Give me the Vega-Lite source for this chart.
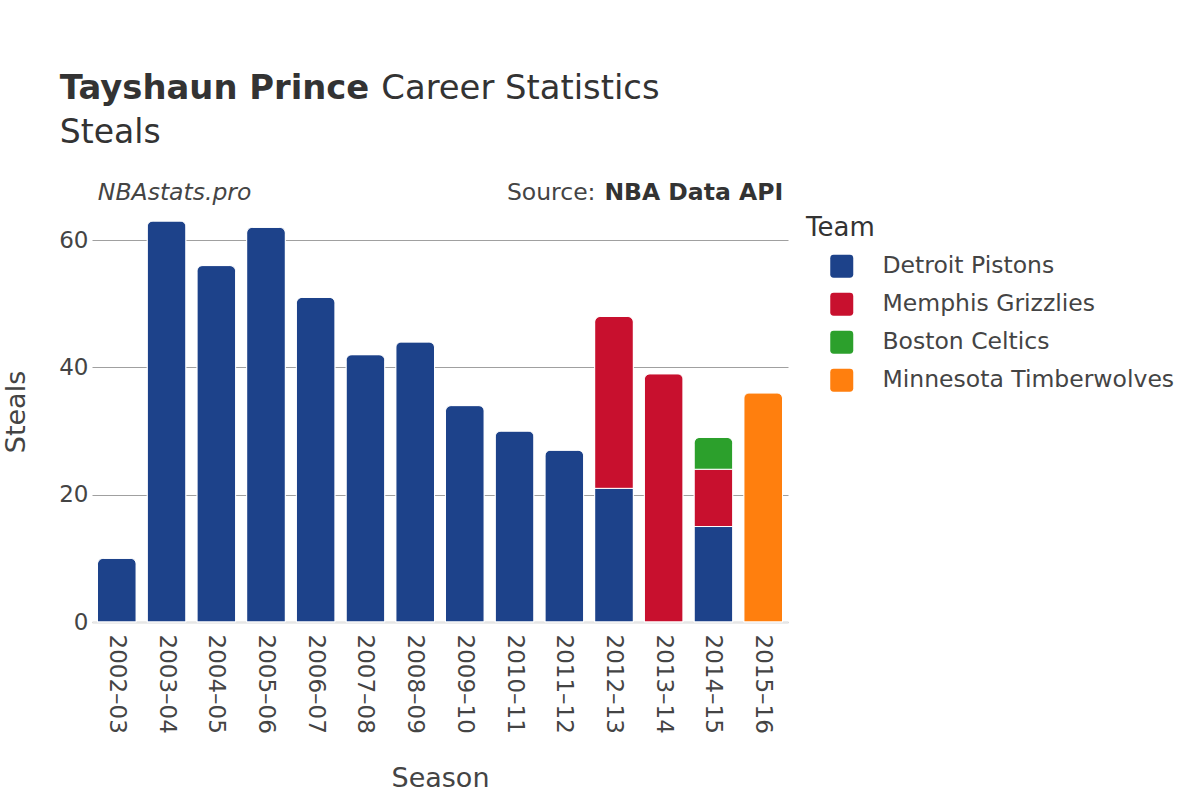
{
  "$schema": "https://vega.github.io/schema/vega-lite/v6.json",
  "width": 696,
  "height": 401,
  "autosize": {"type": "none"},
  "padding": {"left": 92, "top": 221, "right": 412, "bottom": 178},
  "background": "white",
  "config": {"font": "DejaVu Sans", "view": {"stroke": null}},
  "layer": [
    {
      "data": {
        "values": [
          {"season": "2002–03", "team": "Detroit Pistons", "steals": 10},
          {"season": "2003–04", "team": "Detroit Pistons", "steals": 63},
          {"season": "2004–05", "team": "Detroit Pistons", "steals": 56},
          {"season": "2005–06", "team": "Detroit Pistons", "steals": 62},
          {"season": "2006–07", "team": "Detroit Pistons", "steals": 51},
          {"season": "2007–08", "team": "Detroit Pistons", "steals": 42},
          {"season": "2008–09", "team": "Detroit Pistons", "steals": 44},
          {"season": "2009–10", "team": "Detroit Pistons", "steals": 34},
          {"season": "2010–11", "team": "Detroit Pistons", "steals": 30},
          {"season": "2011–12", "team": "Detroit Pistons", "steals": 27},
          {"season": "2012–13", "team": "Detroit Pistons", "steals": 21},
          {"season": "2012–13", "team": "Memphis Grizzlies", "steals": 27},
          {"season": "2013–14", "team": "Memphis Grizzlies", "steals": 39},
          {"season": "2014–15", "team": "Detroit Pistons", "steals": 15},
          {"season": "2014–15", "team": "Memphis Grizzlies", "steals": 9},
          {"season": "2014–15", "team": "Boston Celtics", "steals": 5},
          {"season": "2015–16", "team": "Minnesota Timberwolves", "steals": 36}
        ]
      },
      "transform": [
        {"calculate": "indexof(['Detroit Pistons','Memphis Grizzlies','Boston Celtics','Minnesota Timberwolves'], datum.team)", "as": "team_order"}
      ],
      "mark": {"type": "bar", "cornerRadiusEnd": 6, "stroke": "white", "strokeWidth": 1},
      "encoding": {
        "x": {
          "field": "season",
          "type": "nominal",
          "title": "Season",
          "scale": {"paddingInner": 0.22, "paddingOuter": 0.11},
          "axis": {
            "labelAngle": 90,
            "labelFontSize": 23,
            "labelColor": "#444444",
            "labelPadding": 12,
            "ticks": false,
            "domainColor": "#e6e6e6",
            "domainWidth": 2.5,
            "titleFontSize": 27,
            "titleFontWeight": "normal",
            "titleColor": "#444444",
            "titlePadding": 32
          }
        },
        "y": {
          "field": "steals",
          "type": "quantitative",
          "stack": "zero",
          "title": "Steals",
          "scale": {"domain": [0, 63], "nice": false},
          "axis": {
            "values": [0, 20, 40, 60],
            "labelFontSize": 23,
            "labelColor": "#444444",
            "labelPadding": 4,
            "ticks": false,
            "domain": false,
            "gridColor": "#a0a0a0",
            "gridWidth": 1,
            "titleFontSize": 27,
            "titleFontWeight": "normal",
            "titleColor": "#444444",
            "titlePadding": 28,
            "titleY": 190.5
          }
        },
        "order": {"field": "team_order", "type": "quantitative"},
        "color": {
          "field": "team",
          "type": "nominal",
          "sort": ["Detroit Pistons", "Memphis Grizzlies", "Boston Celtics", "Minnesota Timberwolves"],
          "scale": {
            "domain": ["Detroit Pistons", "Memphis Grizzlies", "Boston Celtics", "Minnesota Timberwolves"],
            "range": ["#1d428a", "#c8102e", "#2ca02c", "#ff7f0e"]
          },
          "legend": {
            "title": "Team",
            "orient": "none",
            "legendX": 714,
            "legendY": -6.5,
            "titleFontSize": 26,
            "titleFontWeight": "normal",
            "titleColor": "#333333",
            "titlePadding": 14,
            "labelFontSize": 23.5,
            "labelColor": "#444444",
            "labelLimit": 400,
            "symbolType": "M -0.7,-1 L 0.7,-1 Q 1,-1 1,-0.7 L 1,0.7 Q 1,1 0.7,1 L -0.7,1 Q -1,1 -1,0.7 L -1,-0.7 Q -1,-1 -0.7,-1 Z",
            "symbolSize": 529,
            "symbolOffset": 24,
            "symbolStrokeWidth": 0,
            "symbolOpacity": 1,
            "labelOffset": 29,
            "rowPadding": 13
          }
        }
      }
    },
    {
      "data": {"values": [{"label": "Tayshaun Prince"}]},
      "mark": {"type": "text", "align": "left", "baseline": "alphabetic", "fontSize": 33.8, "fontWeight": "bold", "color": "#333333", "dx": -57, "dy": -122},
      "encoding": {
        "x": {"datum": "2002–03"},
        "y": {"datum": 63},
        "text": {"field": "label"}
      }
    },
    {
      "data": {"values": [{"label": "Career Statistics"}]},
      "mark": {"type": "text", "align": "left", "baseline": "alphabetic", "fontSize": 33.8, "color": "#333333", "dx": 264.5, "dy": -122},
      "encoding": {
        "x": {"datum": "2002–03"},
        "y": {"datum": 63},
        "text": {"field": "label"}
      }
    },
    {
      "data": {"values": [{"label": "Steals"}]},
      "mark": {"type": "text", "align": "left", "baseline": "alphabetic", "fontSize": 33, "color": "#333333", "dx": -57, "dy": -78},
      "encoding": {
        "x": {"datum": "2002–03"},
        "y": {"datum": 63},
        "text": {"field": "label"}
      }
    },
    {
      "data": {"values": [{"label": "NBAstats.pro"}]},
      "mark": {"type": "text", "align": "left", "baseline": "alphabetic", "fontSize": 23.5, "fontStyle": "italic", "color": "#444444", "dx": -19, "dy": -21},
      "encoding": {
        "x": {"datum": "2002–03"},
        "y": {"datum": 63},
        "text": {"field": "label"}
      }
    },
    {
      "data": {"values": [{"label": "NBA Data API"}]},
      "mark": {"type": "text", "align": "right", "baseline": "alphabetic", "fontSize": 23.5, "fontWeight": "bold", "color": "#333333", "dx": 20, "dy": -21},
      "encoding": {
        "x": {"datum": "2015–16"},
        "y": {"datum": 63},
        "text": {"field": "label"}
      }
    },
    {
      "data": {"values": [{"label": "Source:"}]},
      "mark": {"type": "text", "align": "right", "baseline": "alphabetic", "fontSize": 23.5, "color": "#444444", "dx": -167.6, "dy": -21},
      "encoding": {
        "x": {"datum": "2015–16"},
        "y": {"datum": 63},
        "text": {"field": "label"}
      }
    }
  ]
}
